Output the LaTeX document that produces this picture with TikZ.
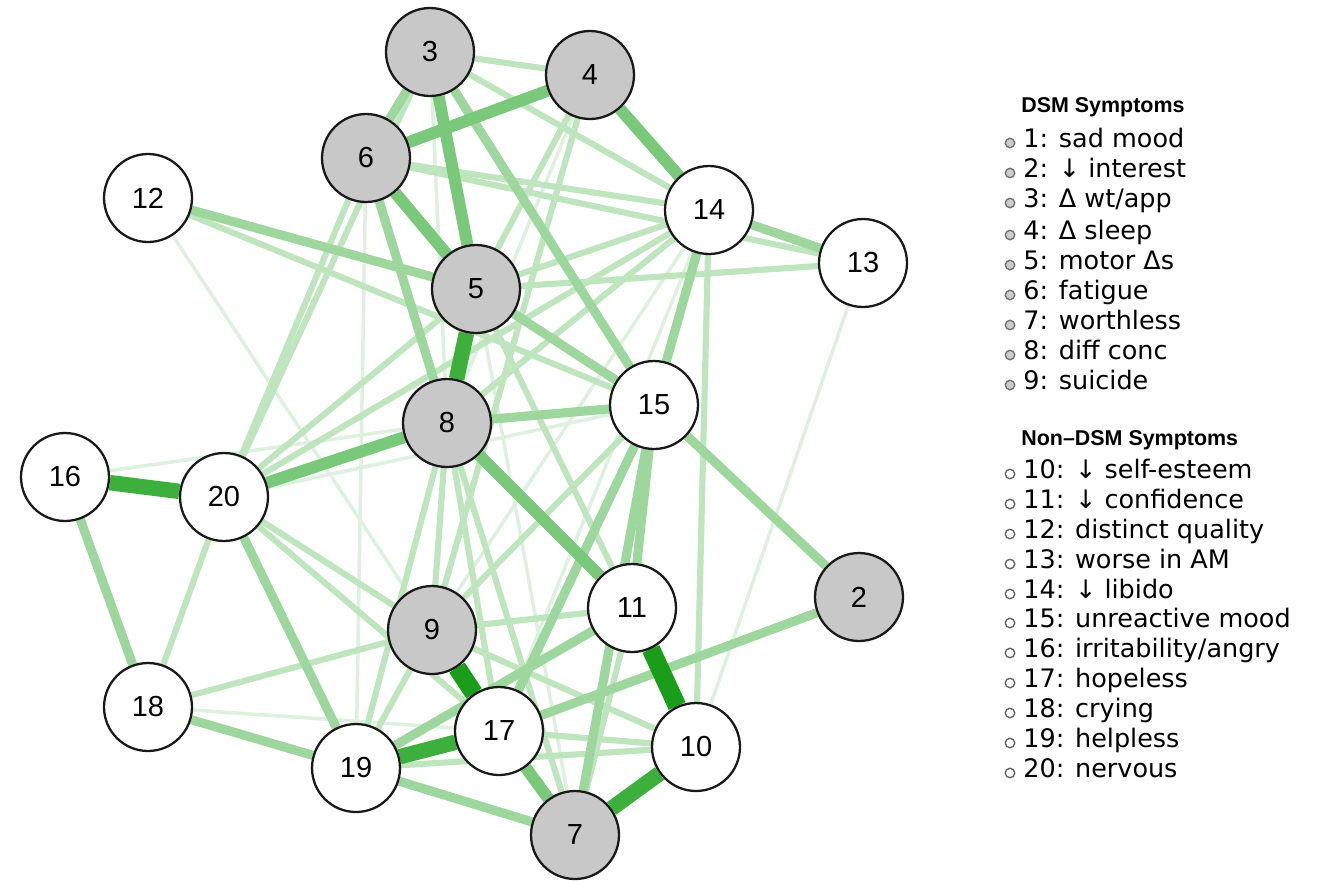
\documentclass[tikz,border=0pt]{standalone}
\usepackage{fontspec}
\setmainfont{Liberation Sans}
\newfontfamily\legendfont{DejaVu Sans}
\usetikzlibrary{backgrounds}

% edge colours, from strongest to weakest partial correlation
\definecolor{wfive}{RGB}{26,158,26}
\definecolor{wfour}{RGB}{60,175,60}
\definecolor{wthree}{RGB}{122,200,122}
\definecolor{wtwo}{RGB}{158,215,158}
\definecolor{wone}{RGB}{190,229,190}
\definecolor{wzero}{RGB}{222,240,222}
\definecolor{dsmfill}{RGB}{200,200,200}

\begin{document}
\begin{tikzpicture}[x=0.02cm,y=-0.02cm,
  sym/.style={circle,draw=black!90,line width=1.3pt,minimum size=1.76cm,
    inner sep=0pt,font=\fontsize{16.5}{18}\selectfont},
  dsm/.style={sym,fill=dsmfill},
  other/.style={sym,fill=white},
  wedge/.style={line cap=butt},
  e5/.style={wedge,line width=10.5pt,draw=wfive},
  e4/.style={wedge,line width=8.8pt,draw=wfour},
  e3/.style={wedge,line width=6.8pt,draw=wthree},
  e2/.style={wedge,line width=5.2pt,draw=wtwo},
  e1/.style={wedge,line width=3.5pt,draw=wone},
  e0/.style={wedge,line width=2pt,draw=wzero},
  legitem/.style={anchor=west,inner sep=0pt,text height=0.74em,text depth=0.2em,
    font=\legendfont\fontsize{14.5}{16}\selectfont},
  leghead/.style={anchor=west,inner sep=0pt,text height=0.74em,text depth=0.2em,
    font=\bfseries\fontsize{12.2}{14}\selectfont},
  dsmdot/.style={circle,draw=black!55,fill=black!20,line width=0.8pt,
    minimum size=5.4pt,inner sep=0pt},
  otherdot/.style={circle,draw=black!60,fill=white,line width=0.8pt,
    minimum size=5.4pt,inner sep=0pt}
]
\useasboundingbox (0,0) rectangle (1324,880);

% symptom nodes
\node[dsm]   (n3)  at (430,52)  {3};
\node[dsm]   (n4)  at (590,75)  {4};
\node[dsm]   (n6)  at (366,158) {6};
\node[other] (n12) at (148,198) {12};
\node[other] (n14) at (709,210) {14};
\node[other] (n13) at (863,263) {13};
\node[dsm]   (n5)  at (476,289) {5};
\node[other] (n15) at (654,405) {15};
\node[dsm]   (n8)  at (447,423) {8};
\node[other] (n16) at (65,477)  {16};
\node[other] (n20) at (224,497) {20};
\node[dsm]   (n2)  at (859,597) {2};
\node[other] (n11) at (632,608) {11};
\node[dsm]   (n9)  at (432,630) {9};
\node[other] (n18) at (148,707) {18};
\node[other] (n17) at (499,731) {17};
\node[other] (n10) at (696,747) {10};
\node[other] (n19) at (356,768) {19};
\node[dsm]   (n7)  at (575,835) {7};

% connections, weakest first so that strong ones lie on top
\begin{pgfonlayer}{background}
  \foreach \a/\b in {13/10,12/17,16/8,18/17,3/8,15/20,14/9,4/8,5/7,6/19,14/17}
    \draw[e0] (n\a) -- (n\b);
  \foreach \a/\b in {3/4,3/14,4/5,4/9,6/14,6/13,6/20,5/13,5/14,5/11,5/20,
      14/8,14/10,14/20,8/17,8/7,8/9,9/20,9/18,9/19,11/7,17/10,19/10,18/20,
      20/17,15/9,3/20,12/15,9/11,9/10,8/19}
    \draw[e1] (n\a) -- (n\b);
  \foreach \a/\b in {5/15,14/15,15/11,20/19,18/19,8/15,6/8,3/6,2/17,2/15,
      16/18,19/11,19/7,14/13,12/5,15/7,3/15,15/17}
    \draw[e2] (n\a) -- (n\b);
  \foreach \a/\b in {6/4,4/14,8/20,8/11,3/5,6/5,17/7}
    \draw[e3] (n\a) -- (n\b);
  \foreach \a/\b in {5/8,10/7,19/17,16/20}
    \draw[e4] (n\a) -- (n\b);
  \foreach \a/\b in {9/17,11/10}
    \draw[e5] (n\a) -- (n\b);
\end{pgfonlayer}

% legend
\node[leghead] (hdsm) at (1021,108) {DSM Symptoms};
\foreach \k/\txt/\yy in {1/{1: sad mood}/143,
    2/{2: ↓ interest}/173,
    3/{3: Δ wt/app}/203,
    4/{4: Δ sleep}/235,
    5/{5: motor Δs}/265,
    6/{6: fatigue}/295,
    7/{7: worthless}/325,
    8/{8: diff conc}/355,
    9/{9: suicide}/385}{
  \node[dsmdot] (db\k) at (1010,\yy) {};
  \node[legitem] (dl\k) at (1023,\yy) {\txt};
}
\node[leghead] (hnon) at (1021,441) {Non–DSM Symptoms};
\foreach \k/\txt/\yy in {10/{10: ↓ self-esteem}/474,
    11/{11: ↓ confidence}/504,
    12/{12: distinct quality}/534,
    13/{13: worse in AM}/564,
    14/{14: ↓ libido}/594,
    15/{15: unreactive mood}/623,
    16/{16: irritability/angry}/653,
    17/{17: hopeless}/683,
    18/{18: crying}/713,
    19/{19: helpless}/743,
    20/{20: nervous}/773}{
  \node[otherdot] (ob\k) at (1010,\yy) {};
  \node[legitem] (ol\k) at (1023,\yy) {\txt};
}
\end{tikzpicture}
\end{document}
